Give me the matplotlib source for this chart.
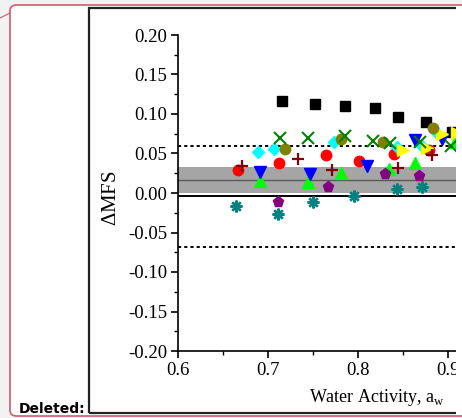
import matplotlib
matplotlib.use('Agg')
import matplotlib.pyplot as plt
from matplotlib.patches import FancyBboxPatch, Rectangle
from matplotlib.lines import Line2D
from matplotlib.ticker import MultipleLocator

plt.rcParams['font.family'] = ['Liberation Serif', 'DejaVu Serif']
plt.rcParams['mathtext.fontset'] = 'custom'
plt.rcParams['mathtext.rm'] = 'Liberation Serif'

# data (water activity, delta MFS)
sq_x = [0.716, 0.752, 0.786, 0.819, 0.844, 0.876, 0.904]
sq_y = [0.116, 0.113, 0.110, 0.108, 0.096, 0.090, 0.077]
xg_x = [0.7135, 0.7445, 0.786, 0.817, 0.836, 0.869, 0.903]
xg_y = [0.070, 0.070, 0.072, 0.066, 0.063, 0.064, 0.060]
rc_x = [0.667, 0.712, 0.764, 0.801, 0.840, 0.879]
rc_y = [0.029, 0.038, 0.048, 0.040, 0.049, 0.055]
cd_x = [0.689, 0.707, 0.773, 0.843, 0.871, 0.887]
cd_y = [0.052, 0.056, 0.064, 0.058, 0.060, 0.077]
yt_x = [0.850, 0.877, 0.893, 0.910]
yt_y = [0.055, 0.057, 0.075, 0.076]
oc_x = [0.719, 0.781, 0.828, 0.883]
oc_y = [0.056, 0.068, 0.065, 0.082]
bt_x = [0.691, 0.747, 0.810, 0.863, 0.893]
bt_y = [0.027, 0.024, 0.034, 0.067, 0.068]
gt_x = [0.691, 0.744, 0.781, 0.834, 0.863, 0.908]
gt_y = [0.015, 0.014, 0.025, 0.031, 0.038, 0.065]
pl_x = [0.671, 0.733, 0.771, 0.844, 0.882]
pl_y = [0.034, 0.043, 0.029, 0.032, 0.048]
pp_x = [0.711, 0.767, 0.830, 0.868]
pp_y = [-0.011, 0.008, 0.024, 0.022]
ta_x = [0.664, 0.711, 0.750, 0.796, 0.843, 0.871]
ta_y = [-0.017, -0.027, -0.011, -0.004, 0.005, 0.008]

upper_loa = 0.060
lower_loa = -0.068
band_lo, band_hi = 0.0, 0.033
band_mid = 0.0165
zero_line = -0.004

W, H = 462, 418
fig = plt.figure(figsize=(W / 100, H / 100), dpi=100)
fig.patch.set_facecolor('#f2f2f2')

def fx(px):
    return px / W

def fy(py):
    return 1 - py / H

# page frame
fig.patches.append(FancyBboxPatch((fx(10), fy(416)), 1.1, fy(5) - fy(416),
                                  boxstyle='round,pad=0,rounding_size=0.014',
                                  transform=fig.transFigure, facecolor='white',
                                  edgecolor='#cf5b72', linewidth=1.2, zorder=-3))
fig.lines.append(Line2D([0, fx(10)], [fy(18), fy(13)], transform=fig.transFigure,
                        color='#cf5b72', linewidth=0.8, zorder=-2))
fig.patches.append(Rectangle((fx(89), fy(413)), 1.0, fy(8) - fy(413),
                             transform=fig.transFigure, facecolor='none',
                             edgecolor='#222222', linewidth=1.6, zorder=-2))
fig.text(fx(19), fy(413), 'Deleted:', family='DejaVu Sans', fontweight='bold',
         fontsize=10, ha='left', va='baseline')

ax = fig.add_axes([fx(178), fy(351), fx(462) - fx(178), fy(35) - fy(351)])
ax.set_facecolor('none')
ax.set_xlim(0.6, 0.6 + (462 - 178) / 900)
ax.set_ylim(-0.20, 0.20)

ax.axhspan(band_lo, band_hi, color='#a5a5a5', lw=0, zorder=1)
ax.axhline(band_mid, color='#5a5a5a', lw=1.0, zorder=2)
ax.axhline(zero_line, color='black', lw=1.4, zorder=2)
ax.axhline(upper_loa, color='black', lw=1.4, ls=(0, (1.6, 1.6)), zorder=2)
ax.axhline(lower_loa, color='black', lw=1.4, ls=(0, (1.6, 1.6)), zorder=2)

ax.plot(sq_x, sq_y, 's', color='black', ms=7, zorder=3)
ax.plot(rc_x, rc_y, 'o', color='#ff0000', ms=7.5, zorder=3)
ax.plot(gt_x, gt_y, '^', color='#00ff00', ms=8, zorder=3)
ax.plot(bt_x, bt_y, 'v', color='#0000ff', ms=8, zorder=3)
ax.plot(cd_x, cd_y, 'D', color='#00ffff', ms=6.5, zorder=3)
ax.plot(yt_x, yt_y, '>', color='#ffff00', ms=8, zorder=3)
ax.plot(oc_x, oc_y, 'o', color='#808000', ms=7.5, zorder=3)
ax.plot(pl_x, pl_y, '+', color='#800000', ms=8.5, mew=1.6, zorder=3)
ax.plot(xg_x, xg_y, 'x', color='#008000', ms=8, mew=1.5, zorder=3)
ax.plot(pp_x, pp_y, 'p', color='#800080', ms=8, zorder=3)
ax.plot(ta_x, ta_y, marker=(8, 2, 0), ls='none', color='#008080', ms=8.5, mew=1.7, zorder=3)

for s in ['top', 'right']:
    ax.spines[s].set_visible(False)
for s in ['left', 'bottom']:
    ax.spines[s].set_linewidth(1.2)

ax.xaxis.set_major_locator(MultipleLocator(0.1))
ax.xaxis.set_minor_locator(MultipleLocator(0.05))
ax.yaxis.set_major_locator(MultipleLocator(0.05))
ax.yaxis.set_minor_locator(MultipleLocator(0.025))
ax.xaxis.set_major_formatter(plt.FuncFormatter(lambda v, p: f'{v:.1f}'))
ax.yaxis.set_major_formatter(plt.FuncFormatter(lambda v, p: f'{v:.2f}'.replace('-0.00', '0.00')))
ax.tick_params(which='major', direction='out', length=5, width=1.2, labelsize=13.5, pad=3)
ax.tick_params(which='minor', direction='out', length=3, width=1.0)

ax.set_ylabel(r'$\Delta$MFS', fontsize=15)
ax.yaxis.set_label_coords(-0.20, 0.484)
ax.set_xlabel(r'Water Activity, a$_{\rm w}$', fontsize=13)
ax.xaxis.set_label_coords(0.70, -0.115)

# the screenshot is cut off at the right: white strip over everything
cover = Rectangle((fx(455.5), fy(414.5)), 1.0, fy(6) - fy(414.5),
                  transform=fig.transFigure, facecolor='white', edgecolor='none',
                  zorder=20)
fig.patches.append(cover)

fig.savefig('out.png', dpi=100, facecolor=fig.get_facecolor())
